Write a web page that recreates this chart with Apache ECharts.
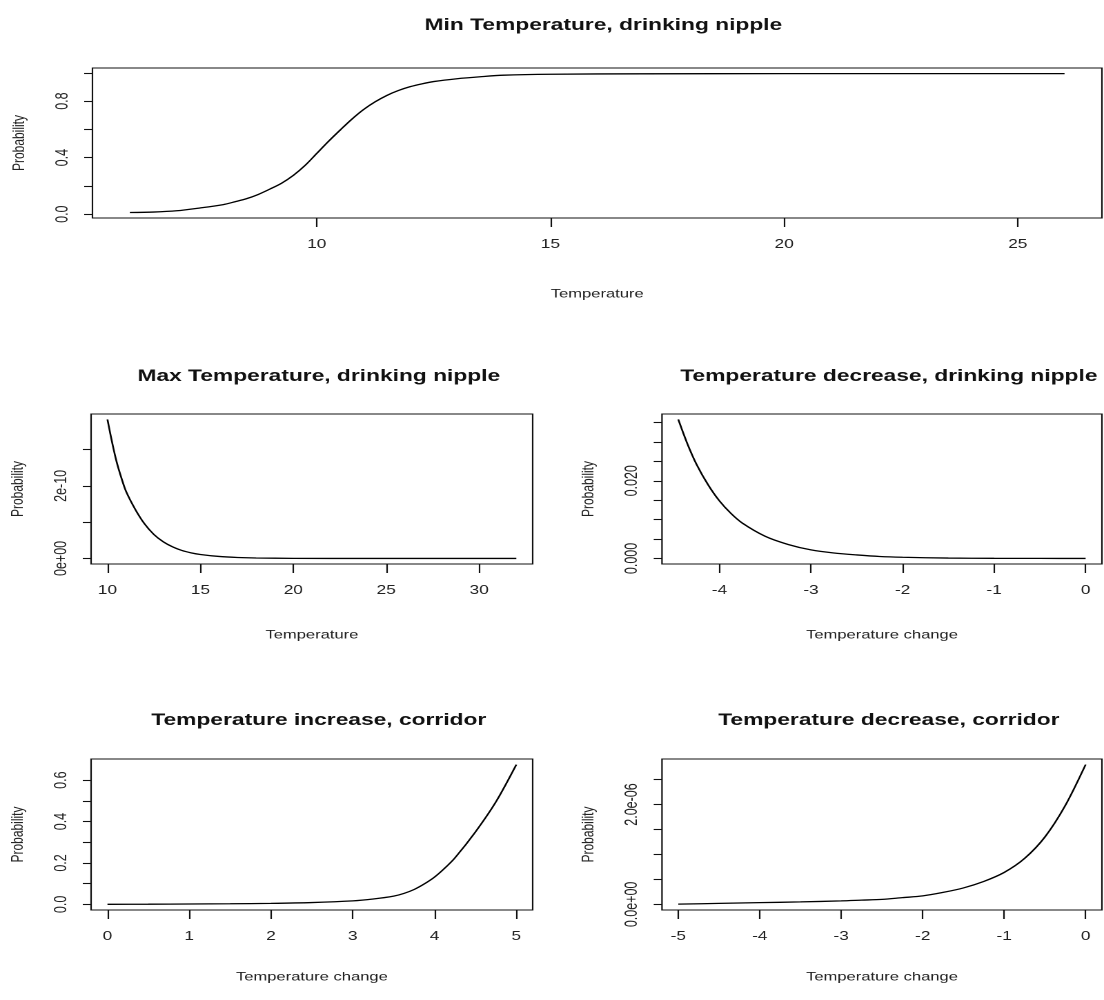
<!DOCTYPE html>
<html>
<head>
<meta charset="utf-8">
<script src="https://cdn.jsdelivr.net/npm/echarts@6/dist/echarts.min.js"></script>
<style>
  html, body { margin: 0; padding: 0; background: #fff; overflow: hidden; }
  /* The reference is a horizontally stretched R figure: draw at 800px wide, stretch to 1104px */
  #chart { width: 800px; height: 1000px; transform: scaleX(1.38); transform-origin: 0 0; }
</style>
</head>
<body>
<div id="chart"></div>
<script>
// ---------- Data ----------
// Panel 1: Min Temperature, drinking nipple
const minTempX = [6.0, 6.5, 7.0, 7.5, 8.0, 8.25, 8.5, 8.75, 9.0, 9.25, 9.5, 9.75, 10.0, 10.25, 10.5, 10.75, 11.0, 11.25, 11.5, 11.75, 12.0, 12.25, 12.5, 13.0, 13.5, 14.0, 15.0, 17.0, 20.0, 23.0, 26.0];
const minTempY = [0.012, 0.015, 0.024, 0.044, 0.068, 0.088, 0.110, 0.140, 0.178, 0.220, 0.275, 0.345, 0.430, 0.515, 0.595, 0.672, 0.740, 0.795, 0.840, 0.875, 0.902, 0.922, 0.938, 0.958, 0.972, 0.983, 0.990, 0.993, 0.994, 0.994, 0.994];

// Panel 2: Max Temperature, drinking nipple
const maxTempX = [10, 10.25, 10.5, 10.75, 11, 11.5, 12, 12.5, 13, 13.5, 14, 14.5, 15, 16, 17, 18, 20, 24, 28, 32];
const maxTempY = [3.83e-10, 3.2e-10, 2.65e-10, 2.22e-10, 1.85e-10, 1.35e-10, 0.95e-10, 0.66e-10, 0.46e-10, 0.32e-10, 0.22e-10, 0.155e-10, 0.11e-10, 0.055e-10, 0.027e-10, 0.013e-10, 0.003e-10, 0.0002e-10, 0, 0];

// Panel 3: Temperature decrease, drinking nipple
const decNippleX = [-4.45, -4.35, -4.25, -4.125, -4.0, -3.875, -3.75, -3.5, -3.25, -3.0, -2.75, -2.5, -2.25, -2.0, -1.5, -1.0, -0.5, 0];
const decNippleY = [0.0358, 0.0295, 0.0242, 0.0190, 0.0148, 0.0116, 0.0091, 0.0057, 0.0036, 0.0022, 0.0014, 0.0009, 0.0005, 0.0003, 0.0001, 0.00003, 0.00001, 0.0];

// Panel 4: Temperature increase, corridor
const incCorrX = [0, 0.5, 1, 1.5, 2, 2.5, 3, 3.25, 3.5, 3.625, 3.75, 3.875, 4.0, 4.125, 4.25, 4.5, 4.75, 5.0];
const incCorrY = [0.0005, 0.001, 0.002, 0.003, 0.005, 0.009, 0.017, 0.026, 0.040, 0.053, 0.072, 0.099, 0.132, 0.175, 0.225, 0.350, 0.495, 0.675];

// Panel 5: Temperature decrease, corridor
const decCorrX = [-5, -4.5, -4, -3.5, -3, -2.75, -2.5, -2.25, -2, -1.75, -1.5, -1.25, -1, -0.75, -0.5, -0.25, 0];
const decCorrY = [0.005e-6, 0.02e-6, 0.035e-6, 0.05e-6, 0.07e-6, 0.085e-6, 0.10e-6, 0.135e-6, 0.17e-6, 0.24e-6, 0.33e-6, 0.46e-6, 0.64e-6, 0.92e-6, 1.35e-6, 1.98e-6, 2.80e-6];

// Tick values and tick labels
const minTempXTicks = [10, 15, 20, 25];
const minTempYTicks = [0, 0.2, 0.4, 0.6, 0.8, 1.0];
const minTempYLabelVals = [0, 0.4, 0.8];
const minTempYLabels = ['0.0', '0.4', '0.8'];

const maxTempXTicks = [10, 15, 20, 25, 30];
const maxTempYTicks = [0, 1e-10, 2e-10, 3e-10];
const maxTempYLabelVals = [0, 2e-10];
const maxTempYLabels = ['0e+00', '2e-10'];

const decNippleXTicks = [-4, -3, -2, -1, 0];
const decNippleYTicks = [0, 0.005, 0.010, 0.015, 0.020, 0.025, 0.030, 0.035];
const decNippleYLabelVals = [0, 0.020];
const decNippleYLabels = ['0.000', '0.020'];

const incCorrXTicks = [0, 1, 2, 3, 4, 5];
const incCorrYTicks = [0, 0.1, 0.2, 0.3, 0.4, 0.5, 0.6];
const incCorrYLabelVals = [0, 0.2, 0.4, 0.6];
const incCorrYLabels = ['0.0', '0.2', '0.4', '0.6'];

const decCorrXTicks = [-5, -4, -3, -2, -1, 0];
const decCorrYTicks = [0, 5e-7, 1e-6, 1.5e-6, 2e-6, 2.5e-6];
const decCorrYLabelVals = [0, 2e-6];
const decCorrYLabels = ['0.0e+00', '2.0e-06'];

const titles = [
  'Min Temperature, drinking nipple',
  'Max Temperature, drinking nipple',
  'Temperature decrease, drinking nipple',
  'Temperature increase, corridor',
  'Temperature decrease, corridor'
];
const xNames = ['Temperature', 'Temperature', 'Temperature change', 'Temperature change', 'Temperature change'];
const yName = 'Probability';

// ---------- Layout (in unstretched 800px-wide coordinates) ----------
const FONT = 'Liberation Sans, Arial, sans-serif';
const panels = [
  { grid: { left: 66, top: 68, width: 732.5, height: 150 }, titleTop: 12, xNameGap: 70,
    x: minTempX, y: minTempY, xTicks: minTempXTicks, xMin: 5.2, xMax: 26.8,
    yTicks: minTempYTicks, yLabVals: minTempYLabelVals, yLabs: minTempYLabels, yMin: -0.027, yMax: 1.034 },
  { grid: { left: 66, top: 414, width: 320, height: 150 }, titleTop: 363, xNameGap: 65,
    x: maxTempX, y: maxTempY, xTicks: maxTempXTicks, xMin: 9.12, xMax: 32.88,
    yTicks: maxTempYTicks, yLabVals: maxTempYLabelVals, yLabs: maxTempYLabels, yMin: -0.153e-10, yMax: 3.98e-10 },
  { grid: { left: 479.7, top: 414, width: 318.8, height: 150 }, titleTop: 363, xNameGap: 65,
    x: decNippleX, y: decNippleY, xTicks: decNippleXTicks, xMin: -4.628, xMax: 0.178,
    yTicks: decNippleYTicks, yLabVals: decNippleYLabelVals, yLabs: decNippleYLabels, yMin: -0.00143, yMax: 0.0372 },
  { grid: { left: 66, top: 759, width: 320, height: 151 }, titleTop: 707, xNameGap: 61,
    x: incCorrX, y: incCorrY, xTicks: incCorrXTicks, xMin: -0.2, xMax: 5.2,
    yTicks: incCorrYTicks, yLabVals: incCorrYLabelVals, yLabs: incCorrYLabels, yMin: -0.027, yMax: 0.702 },
  { grid: { left: 479.7, top: 759, width: 318.8, height: 151 }, titleTop: 707, xNameGap: 61,
    x: decCorrX, y: decCorrY, xTicks: decCorrXTicks, xMin: -5.2, xMax: 0.2,
    yTicks: decCorrYTicks, yLabVals: decCorrYLabelVals, yLabs: decCorrYLabels, yMin: -0.112e-6, yMax: 2.912e-6 }
];

const option = {
  backgroundColor: '#ffffff',
  animation: false,
  title: [], grid: [], xAxis: [], yAxis: [], series: []
};

panels.forEach((p, i) => {
  const g = p.grid;
  option.title.push({
    text: titles[i],
    left: g.left + g.width / 2,
    top: p.titleTop,
    textAlign: 'center',
    textStyle: { fontFamily: FONT, fontSize: 16.5, fontWeight: 'bold', color: '#111' }
  });
  option.grid.push({
    left: g.left, top: g.top, width: g.width, height: g.height,
    show: true, borderColor: '#111', borderWidth: 1.1, backgroundColor: 'transparent',
    containLabel: false
  });
  option.xAxis.push({
    type: 'value', gridIndex: i, min: p.xMin, max: p.xMax,
    name: xNames[i], nameLocation: 'middle', nameGap: p.xNameGap,
    nameTextStyle: { fontFamily: FONT, fontSize: 12, color: '#222' },
    axisLine: { show: false, onZero: false },
    axisTick: { show: true, inside: false, length: 9, lineStyle: { color: '#111', width: 1.1 }, customValues: p.xTicks },
    axisLabel: { show: true, margin: 20, fontFamily: FONT, fontSize: 12.5, color: '#222', customValues: p.xTicks,
      formatter: v => String(Math.round(v)) },
    splitLine: { show: false }
  });
  const labVals = p.yLabVals, labs = p.yLabs;
  option.yAxis.push({
    type: 'value', gridIndex: i, min: p.yMin, max: p.yMax,
    name: yName, nameLocation: 'middle', nameGap: 47, nameRotate: 90,
    nameTextStyle: { fontFamily: FONT, fontSize: 12, color: '#222' },
    axisLine: { show: false, onZero: false },
    axisTick: { show: true, inside: false, length: 6, lineStyle: { color: '#111', width: 1.1 }, customValues: p.yTicks },
    axisLabel: { show: true, rotate: 90, margin: 15, fontFamily: FONT, fontSize: 12.5, color: '#222', customValues: labVals,
      formatter: (v) => {
        let best = 0, bd = Infinity;
        labVals.forEach((lv, k) => { const d = Math.abs(lv - v); if (d < bd) { bd = d; best = k; } });
        return labs[best];
      } },
    splitLine: { show: false }
  });
  option.series.push({
    type: 'line', xAxisIndex: i, yAxisIndex: i,
    data: p.x.map((xv, k) => [xv, p.y[k]]),
    showSymbol: false, symbol: 'none',
    smooth: 0.3,
    lineStyle: { color: '#000', width: 1.3 },
    silent: true
  });
});

const chart = echarts.init(document.getElementById('chart'), null, { renderer: 'canvas', width: 800, height: 1000, devicePixelRatio: 2 });
chart.setOption(option);
</script>
</body>
</html>
